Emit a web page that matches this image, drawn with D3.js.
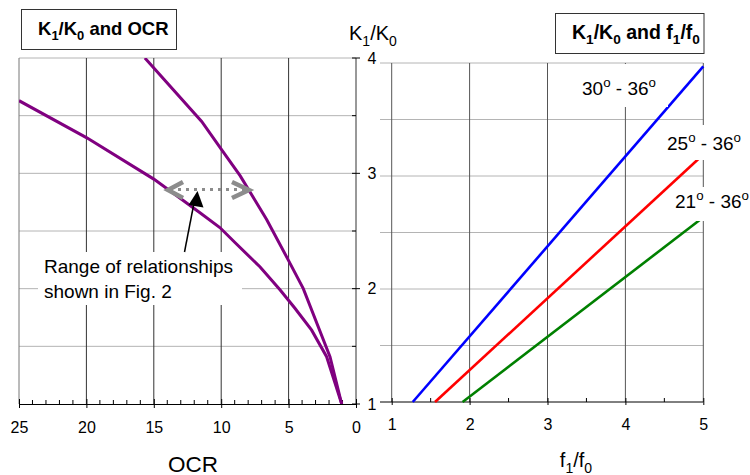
<!DOCTYPE html>
<html><head><meta charset="utf-8">
<script src="https://cdn.jsdelivr.net/npm/d3@7"></script>
<style>
html,body{margin:0;padding:0;background:#fff;}
svg{display:block;font-family:"Liberation Sans",Arial,sans-serif;}
</style></head>
<body><svg id="c" width="750" height="475"></svg>
<script>
// ---------- data ----------
const ocrTicks = [25, 20, 15, 10, 5, 0];
const ocrMinor = d3.range(0, 26, 1);
const kTicks = [1, 2, 3, 4];
const kGrid = [1.5, 2, 2.5, 3, 3.5, 4];
const kHalf = [1.5, 2.5, 3.5];
const fTicks = [1, 2, 3, 4, 5];
const fMinor = [1.5, 2.5, 3.5, 4.5];

// OCR vs K1/K0
const upperOCR = [1.06, 1.93, 3.91, 5.03, 6.63, 8.6, 10.0, 11.45, 15.66];
const upperK   = [1.0, 1.41, 2.0, 2.25, 2.6, 2.98, 3.21, 3.45, 4.0];
const lowerOCR = [1.06, 2.18, 3.29, 4.53, 5.64, 7.13, 8.98, 10.1, 11.6, 15, 20, 25];
const lowerK   = [1.0, 1.41, 1.64, 1.83, 1.99, 2.19, 2.40, 2.53, 2.66, 2.95, 3.31, 3.63];

// f1/f0 vs K1/K0
const seriesNames = ["30", "25", "21"];
const seriesColors = ["#0000ff", "#ff0000", "#008000"];
const seriesF = [[1.27, 5], [1.556, 5], [1.91, 5]];
const seriesK = [[1, 3.97], [1, 3.19], [1, 2.635]];

// ---------- scales ----------
const svg = d3.select("#c");
const xL = d3.scaleLinear().domain([25, 0]).range([19, 356]);
const yL = d3.scaleLinear().domain([1, 4]).range([404, 58]);
const xR = d3.scaleLinear().domain([1, 5]).range([391.7, 703.3]);
const yR = d3.scaleLinear().domain([1, 4]).range([402, 63]);

function rich(g, parts, x, y, size, weight, anchor) {
  const t = g.append("text").attr("x", x).attr("y", y)
    .attr("font-size", size).attr("font-weight", weight || "normal")
    .attr("text-anchor", anchor || "start").attr("fill", "#000");
  let shift = 0;
  parts.forEach(p => {
    const target = p.sub ? size * 0.28 : p.sup ? -size * 0.42 : 0;
    const ts = t.append("tspan").attr("dy", target - shift).text(p.t);
    if (p.sub || p.sup) ts.attr("font-size", size * 0.7);
    shift = target;
  });
  return t;
}

// ---------- left plot ----------
const gL = svg.append("g");
gL.selectAll(".hg").data(kGrid).join("line")
  .attr("x1", xL(25)).attr("x2", xL(0))
  .attr("y1", d => yL(d)).attr("y2", d => yL(d))
  .attr("stroke", "#b4b4b4").attr("stroke-width", 1);
gL.selectAll(".vg").data([25, 20, 15, 10, 5]).join("line")
  .attr("x1", d => xL(d)).attr("x2", d => xL(d))
  .attr("y1", yL(4)).attr("y2", yL(1))
  .attr("stroke", d => d === 25 ? "#777" : "#333").attr("stroke-width", 1);

// ---------- right plot grid ----------
const gR = svg.append("g");
gR.selectAll(".hg").data(kGrid).join("line")
  .attr("x1", 380).attr("x2", xR(5))
  .attr("y1", d => yR(d)).attr("y2", d => yR(d))
  .attr("stroke", "#b4b4b4").attr("stroke-width", 1);
gR.selectAll(".vg").data(fTicks).join("line")
  .attr("x1", d => xR(d)).attr("x2", d => xR(d))
  .attr("y1", yR(4)).attr("y2", yR(1))
  .attr("stroke", "#555").attr("stroke-width", 1);

// annotation background
svg.append("rect").attr("x", 38).attr("y", 252).attr("width", 204).attr("height", 53).attr("fill", "#fff");

// centre axis (K1/K0)
const axC = svg.append("g").attr("transform", `translate(${xL(0)},0)`);
axC.append("line").attr("x1", 0).attr("x2", 0).attr("y1", yL(4)).attr("y2", yL(1)).attr("stroke", "#333");
axC.selectAll(".mt").data(kTicks).join("line")
  .attr("x1", -4).attr("x2", 4).attr("y1", d => yL(d)).attr("y2", d => yL(d)).attr("stroke", "#000");
axC.selectAll(".ht").data(kHalf).join("line")
  .attr("x1", -4).attr("x2", 0).attr("y1", d => yL(d)).attr("y2", d => yL(d)).attr("stroke", "#000");
axC.selectAll(".lb").data(kTicks).join("text")
  .attr("x", 16).attr("y", d => yL(d)).attr("dy", "0.36em")
  .attr("text-anchor", "middle").attr("font-size", 16).text(d => d);

// bottom axis left
const axL = svg.append("g").attr("transform", `translate(0,${yL(1)})`)
  .call(d3.axisBottom(xL).tickValues(ocrTicks).tickSize(4).tickFormat(d3.format("d")));
axL.select(".domain").attr("stroke", "#000");
axL.selectAll(".tick line").attr("y1", -5).attr("stroke", "#000");
axL.selectAll(".tick text").attr("y", 29).attr("dy", 0).attr("font-size", 16)
  .attr("font-family", "Liberation Sans, Arial, sans-serif").attr("fill", "#000");
axL.selectAll(".mn").data(ocrMinor.filter(d => d % 5 !== 0)).join("line")
  .attr("x1", d => xL(d)).attr("x2", d => xL(d)).attr("y1", -4).attr("y2", 0).attr("stroke", "#000");

// bottom axis right
const axR = svg.append("g").attr("transform", `translate(0,${yR(1)})`)
  .call(d3.axisBottom(xR).tickValues(fTicks).tickSize(3).tickFormat(d3.format("d")));
axR.select(".domain").attr("d", `M380,0H${xR(5)}`).attr("stroke", "#000");
axR.selectAll(".tick line").attr("y1", -4).attr("stroke", "#000");
axR.selectAll(".tick text").attr("y", 28).attr("dy", 0).attr("font-size", 16)
  .attr("font-family", "Liberation Sans, Arial, sans-serif").attr("fill", "#000");
axR.selectAll(".mn").data(fMinor).join("line")
  .attr("x1", d => xR(d)).attr("x2", d => xR(d)).attr("y1", -4).attr("y2", 0).attr("stroke", "#000");

// ---------- curves ----------
const clipL = svg.append("clipPath").attr("id", "clipL");
clipL.append("rect").attr("x", xL(25)).attr("y", yL(4)).attr("width", xL(0) - xL(25)).attr("height", yL(1) - yL(4));
const line = d3.line().x(d => xL(d[0])).y(d => yL(d[1]));
[[upperOCR, upperK], [lowerOCR, lowerK]].forEach(([xs, ys]) => {
  svg.append("path").attr("clip-path", "url(#clipL)")
    .attr("d", line(xs.map((v, i) => [v, ys[i]])))
    .attr("fill", "none").attr("stroke", "#800080").attr("stroke-width", 3);
});

const lineR = d3.line().x(d => xR(d[0])).y(d => yR(d[1]));
seriesNames.forEach((n, i) => {
  svg.append("path").attr("d", lineR(seriesF[i].map((v, j) => [v, seriesK[i][j]])))
    .attr("fill", "none").attr("stroke", seriesColors[i]).attr("stroke-width", 2.6);
});

// series labels
const labelPos = [[582, 95, 575, 64, 93, 43], [667, 150, 662, 125, 88, 35], [675, 208, 670, 187, 80, 34]];
seriesNames.forEach((n, i) => {
  const p = labelPos[i];
  svg.append("rect").attr("x", p[2]).attr("y", p[3]).attr("width", p[4]).attr("height", p[5]).attr("fill", "#fff");
  rich(svg, [{t: n}, {t: "o", sup: true}, {t: " - 36"}, {t: "o", sup: true}], p[0], p[1], 19, "normal", "start");
});

// ---------- annotation ----------
svg.append("line").attr("x1", 170).attr("x2", 248).attr("y1", 189.5).attr("y2", 189.5)
  .attr("stroke", "#8c8c8c").attr("stroke-width", 3).attr("stroke-dasharray", "3,5");
svg.append("path").attr("d", "M183,182L168,190L183,198").attr("fill", "none")
  .attr("stroke", "#8c8c8c").attr("stroke-width", 4.5).attr("stroke-linejoin", "miter");
svg.append("path").attr("d", "M232,182L249,190L232,198").attr("fill", "none")
  .attr("stroke", "#8c8c8c").attr("stroke-width", 4.5).attr("stroke-linejoin", "miter");
svg.append("line").attr("x1", 184.5).attr("y1", 252).attr("x2", 194).attr("y2", 203)
  .attr("stroke", "#000").attr("stroke-width", 1.5);
svg.append("path").attr("d", "M197.5,191L188.5,205L203.5,207.5Z").attr("fill", "#000");
svg.append("text").attr("x", 44).attr("y", 273).attr("font-size", 19).text("Range of relationships");
svg.append("text").attr("x", 44).attr("y", 297.5).attr("font-size", 19).text("shown in Fig. 2");

// ---------- titles & axis labels ----------
svg.append("rect").attr("x", 21.5).attr("y", 9.5).attr("width", 155).attr("height", 40)
  .attr("fill", "#fff").attr("stroke", "#333").attr("stroke-width", 1);
rich(svg, [{t: "K"}, {t: "1", sub: true}, {t: "/K"}, {t: "0", sub: true}, {t: " and OCR"}], 38, 34.5, 18.5, "bold");
svg.append("rect").attr("x", 555.5).attr("y", 13.5).attr("width", 148.5).attr("height", 40)
  .attr("fill", "#fff").attr("stroke", "#333").attr("stroke-width", 1);
rich(svg, [{t: "K"}, {t: "1", sub: true}, {t: "/K"}, {t: "0", sub: true}, {t: " and f"}, {t: "1", sub: true}, {t: "/f"}, {t: "0", sub: true}], 572, 38.5, 19.5, "bold");

rich(svg, [{t: "K"}, {t: "1", sub: true}, {t: "/K"}, {t: "0", sub: true}], 349, 40, 20, "normal");
rich(svg, [{t: "f"}, {t: "1", sub: true}, {t: "/f"}, {t: "0", sub: true}], 576, 467, 20, "normal", "middle");
svg.append("text").attr("x", 193).attr("y", 471.5).attr("text-anchor", "middle").attr("font-size", 22.5).text("OCR");
</script></body></html>
